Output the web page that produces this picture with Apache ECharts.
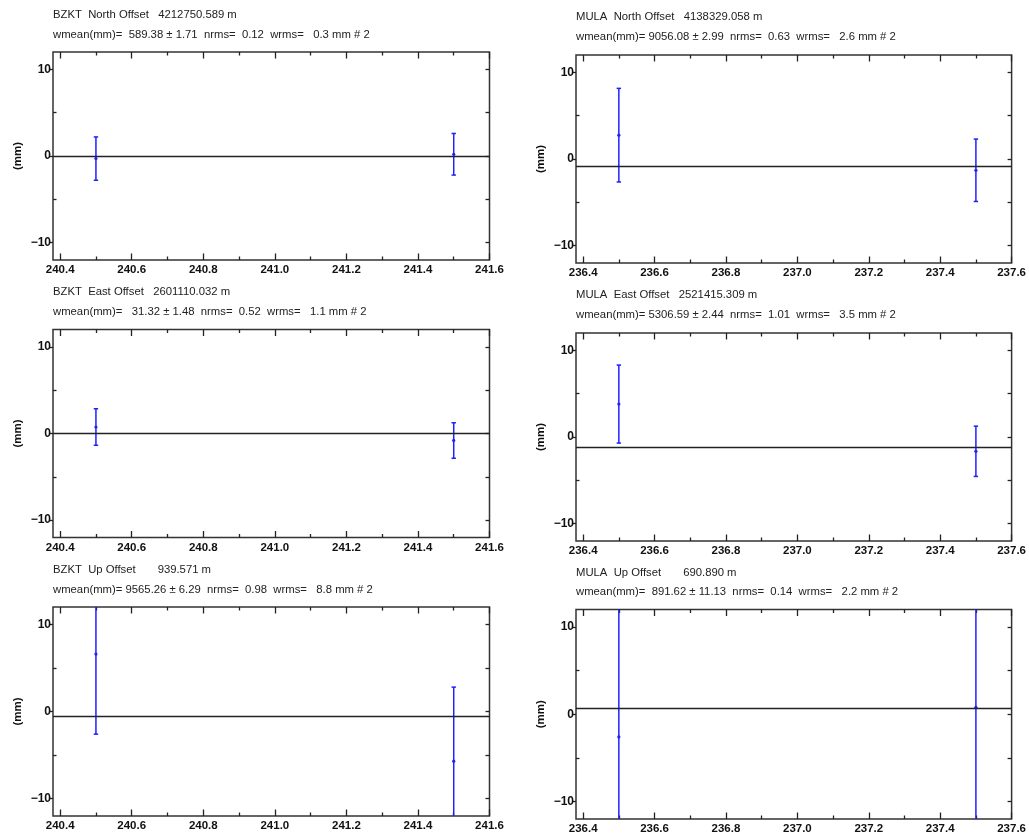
<!DOCTYPE html>
<html><head><meta charset="utf-8">
<script src="https://cdn.jsdelivr.net/npm/echarts@6/dist/echarts.min.js"></script>
<style>html,body{margin:0;padding:0;background:#fff}#c{width:1029px;height:839px}</style>
</head><body><div id="c"></div><script>
// ---- data ----
const epochsBZKT = [240.5, 241.5];
const epochsMULA = [236.5, 237.5];
const bzktNorth = [-0.3, 0.2],  bzktNorthSig = [2.5, 2.4];
const mulaNorth = [2.75, -1.3], mulaNorthSig = [5.4, 3.6];
const bzktEast  = [0.75, -0.8], bzktEastSig  = [2.1, 2.05];
const mulaEast  = [3.8, -1.65], mulaEastSig  = [4.5, 2.9];
const bzktUp    = [6.6, -5.7],  bzktUpSig    = [9.2, 8.5];
const mulaUp    = [-2.6, 0.8],  mulaUpSig    = [15.7, 15.7];
const meanBZKT = [0, 0, -0.5];      // North, East, Up
const meanMULA = [-0.8, -1.2, 0.7];
// ---- ticks ----
const xRangeBZKT = [240.38, 241.6];
const xRangeMULA = [236.38, 237.6];
const xMajorBZKT = [240.4, 240.6, 240.8, 241.0, 241.2, 241.4, 241.6];
const xMinorBZKT = [240.5, 240.7, 240.9, 241.1, 241.3, 241.5];
const xMajorMULA = [236.4, 236.6, 236.8, 237.0, 237.2, 237.4, 237.6];
const xMinorMULA = [236.5, 236.7, 236.9, 237.1, 237.3, 237.5];
const yRange = [-12, 12];
const yMajor = [-10, 0, 10];
const yMinor = [-5, 5];
// ---- titles ----
const titlesBZKT = [
  ['BZKT  North Offset   4212750.589 m', 'wmean(mm)=  589.38 \u00b1 1.71  nrms=  0.12  wrms=   0.3 mm # 2'],
  ['BZKT  East Offset   2601110.032 m',  'wmean(mm)=   31.32 \u00b1 1.48  nrms=  0.52  wrms=   1.1 mm # 2'],
  ['BZKT  Up Offset       939.571 m',    'wmean(mm)= 9565.26 \u00b1 6.29  nrms=  0.98  wrms=   8.8 mm # 2']
];
const titlesMULA = [
  ['MULA  North Offset   4138329.058 m', 'wmean(mm)= 9056.08 \u00b1 2.99  nrms=  0.63  wrms=   2.6 mm # 2'],
  ['MULA  East Offset   2521415.309 m',  'wmean(mm)= 5306.59 \u00b1 2.44  nrms=  1.01  wrms=   3.5 mm # 2'],
  ['MULA  Up Offset       690.890 m',    'wmean(mm)=  891.62 \u00b1 11.13  nrms=  0.14  wrms=   2.2 mm # 2']
];

// ---- layout ----
const FONT = '"Liberation Sans", Arial, sans-serif';
const colLeft = [53, 576], colWidth = [436.5, 437];
const rowTop = [[52, 329.5, 607], [55, 333, 609.5]];
const rowH = [[208, 208, 209], [208, 208, 209.5]];
const titleTop = [[5.5, 282.5, 560.5], [7.5, 285.5, 563]];

const panels = [];
const valsB = [[bzktNorth, bzktNorthSig], [bzktEast, bzktEastSig], [bzktUp, bzktUpSig]];
const valsM = [[mulaNorth, mulaNorthSig], [mulaEast, mulaEastSig], [mulaUp, mulaUpSig]];
for (let r = 0; r < 3; r++) {
  panels.push({col: 0, row: r, ep: epochsBZKT, v: valsB[r][0], s: valsB[r][1], mean: meanBZKT[r],
    xr: xRangeBZKT, xMaj: xMajorBZKT, xMin: xMinorBZKT, title: titlesBZKT[r]});
  panels.push({col: 1, row: r, ep: epochsMULA, v: valsM[r][0], s: valsM[r][1], mean: meanMULA[r],
    xr: xRangeMULA, xMaj: xMajorMULA, xMin: xMinorMULA, title: titlesMULA[r]});
}

const grid = [], xAxis = [], yAxis = [], series = [], title = [];
const tickColor = '#222';
panels.forEach((p, i) => {
  grid.push({left: colLeft[p.col], top: rowTop[p.col][p.row], width: colWidth[p.col], height: rowH[p.col][p.row],
    show: true, borderColor: '#333', borderWidth: 1.5, backgroundColor: 'transparent', containLabel: false});
  title.push({left: colLeft[p.col], top: titleTop[p.col][p.row], padding: 0,
    text: p.title[0] + '\n' + p.title[1],
    textStyle: {fontFamily: FONT, fontSize: 11.3, fontWeight: 'normal', color: '#222', lineHeight: 19.5}});
  const baseX = {type: 'value', gridIndex: i, min: p.xr[0], max: p.xr[1], splitLine: {show: false},
    axisLine: {show: false, onZero: false}};
  xAxis.push(Object.assign({}, baseX, {position: 'bottom',
    axisTick: {show: true, inside: true, length: 6.5, customValues: p.xMaj, lineStyle: {color: tickColor, width: 1.3}},
    axisLabel: {show: true, customValues: p.xMaj, margin: 4, fontFamily: FONT, fontSize: 11.5, fontWeight: 'bold', color: '#111',
      formatter: v => v.toFixed(1)}}));
  xAxis.push(Object.assign({}, baseX, {position: 'bottom',
    axisTick: {show: true, inside: true, length: 3.5, customValues: p.xMin, lineStyle: {color: tickColor, width: 1.3}},
    axisLabel: {show: false}}));
  xAxis.push(Object.assign({}, baseX, {position: 'top',
    axisTick: {show: true, inside: true, length: 6.5, customValues: p.xMaj, lineStyle: {color: tickColor, width: 1.3}},
    axisLabel: {show: false}}));
  xAxis.push(Object.assign({}, baseX, {position: 'top',
    axisTick: {show: true, inside: true, length: 3.5, customValues: p.xMin, lineStyle: {color: tickColor, width: 1.3}},
    axisLabel: {show: false}}));
  const baseY = {type: 'value', gridIndex: i, min: yRange[0], max: yRange[1], splitLine: {show: false},
    axisLine: {show: false, onZero: false}};
  yAxis.push(Object.assign({}, baseY, {position: 'left',
    name: '(mm)', nameLocation: 'middle', nameRotate: 90, nameGap: 29,
    nameTextStyle: {fontFamily: FONT, fontSize: 11.5, fontWeight: 'bold', color: '#111'},
    axisTick: {show: true, inside: false, length: 3.5, customValues: yMajor, lineStyle: {color: tickColor, width: 1.3}},
    axisLabel: {show: true, customValues: yMajor, margin: 2, fontFamily: FONT, fontSize: 12, fontWeight: 'bold', color: '#111',
      formatter: v => String(v).replace('-', '\u2212')}}));
  yAxis.push(Object.assign({}, baseY, {position: 'left',
    axisTick: {show: true, inside: true, length: 3.5, customValues: yMinor, lineStyle: {color: tickColor, width: 1.3}},
    axisLabel: {show: false}}));
  yAxis.push(Object.assign({}, baseY, {position: 'right',
    axisTick: {show: true, inside: true, length: 4, customValues: yMajor.concat(yMinor), lineStyle: {color: tickColor, width: 1.3}},
    axisLabel: {show: false}}));

  const data = p.ep.map((x, k) => [x, p.v[k], p.s[k]]);
  series.push({
    type: 'custom', xAxisIndex: i * 4, yAxisIndex: i * 3, clip: true, silent: true,
    data: data,
    renderItem: function (params, api) {
      const x = api.value(0), y = api.value(1), s = api.value(2);
      const c = api.coord([x, y]);
      const t = api.coord([x, y + s]);
      const b = api.coord([x, y - s]);
      const st = {stroke: '#2020ff', lineWidth: 1.5};
      return {type: 'group', children: [
        {type: 'line', shape: {x1: c[0], y1: t[1], x2: c[0], y2: b[1]}, style: st},
        {type: 'line', shape: {x1: c[0] - 2.2, y1: t[1], x2: c[0] + 2.2, y2: t[1]}, style: st},
        {type: 'line', shape: {x1: c[0] - 2.2, y1: b[1], x2: c[0] + 2.2, y2: b[1]}, style: st},
        {type: 'circle', shape: {cx: c[0], cy: c[1], r: 1.6}, style: {fill: '#2020ff'}}
      ]};
    },
    markLine: {silent: true, symbol: 'none', label: {show: false}, animation: false,
      lineStyle: {color: '#222', width: 1.4, type: 'solid'},
      data: [{yAxis: p.mean}]}
  });
});

const chart = echarts.init(document.getElementById('c'), null, {renderer: 'canvas'});
chart.setOption({animation: false, backgroundColor: '#fff', title, grid, xAxis, yAxis, series});
</script></body></html>
